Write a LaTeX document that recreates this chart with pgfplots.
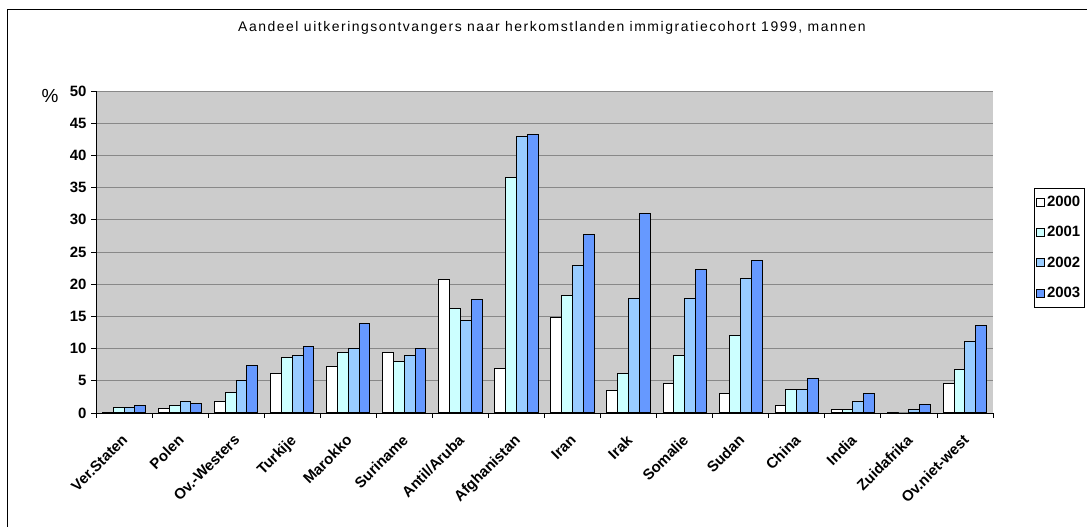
\documentclass[border=0pt]{standalone}
\usepackage{pgfplots}
\usepackage{pgfplotstable}
\pgfplotsset{compat=1.18}
\usepackage{fontspec}
\setmainfont{Liberation Sans}
\newfontfamily\titlefont[LetterSpace=11]{Liberation Sans}

\definecolor{jr2001}{HTML}{CCFFFF}
\definecolor{jr2002}{HTML}{99CCFF}
\definecolor{jr2003}{HTML}{6699FF}
\definecolor{plotbg}{HTML}{CCCCCC}
\definecolor{gridc}{HTML}{888888}

% percentages per herkomstland, mannen, cohort 1999
\pgfplotstableread{
x  a2000 a2001 a2002 a2003
0  0.15  0.9   0.9   1.15
1  0.7   1.15  1.85  1.55
2  1.85  3.25  5.1   7.4
3  6.2   8.6   9.0   10.4
4  7.25  9.45  10.0  13.95
5  9.45  8.05  8.85  10.0
6  20.7  16.2  14.4  17.6
7  6.9   36.5  43.0  43.2
8  14.85 18.3  22.95 27.65
9  3.45  6.2   17.85 30.9
10 4.65  9.0   17.85 22.3
11 2.95  12.05 20.9  23.7
12 1.15  3.7   3.7   5.3
13 0.6   0.6   1.85  2.95
14 0.12  0     0.6   1.35
15 4.65  6.7   11.15 13.65
}\herkomst

\begin{document}
\begin{tikzpicture}[x=1bp,y=1bp]
\path[use as bounding box] (0,0) rectangle (1087,527);
\draw[black, line width=0.9bp] (7,-5) rectangle (1200,518);
\node[font=\titlefont\fontsize{14}{16}\selectfont] at (552,499) {Aandeel uitkeringsontvangers naar herkomstlanden immigratiecohort 1999, mannen};
\node[font=\fontsize{19}{21}\selectfont] at (50,431) {\%};
\begin{axis}[
  at={(96bp,114bp)}, anchor=south west,
  scale only axis, width=897bp, height=322bp,
  ymin=0, ymax=50, ytick={0,5,...,50},
  xmin=-0.5, xmax=15.5,
  xtick={-0.5,0.5,...,15.5},
  x tick label as interval,
  xticklabels={Ver.Staten,Polen,Ov.-Westers,Turkije,Marokko,Suriname,Antil/Aruba,Afghanistan,Iran,Irak,Somalie,Sudan,China,India,Zuidafrika,Ov.niet-west},
  xticklabel style={yshift=-14bp, xshift=-3bp, rotate=45, anchor=north east, inner sep=1bp},
  yticklabel style={xshift=-1bp},
  axis lines*=left,
  axis line style={black, line width=0.9bp},
  tick align=outside, major tick length=5bp,
  tick style={black, line width=0.9bp},
  ticklabel style={font=\bfseries\fontsize{15}{17}\selectfont},
  /pgf/number format/assume math mode=true,
  axis background/.style={fill=plotbg},
  ymajorgrids, grid style={gridc, line width=0.9bp},
  ybar=0pt, bar width=0.193,
  legend style={at={(1.0457,0.699)}, anchor=north west, draw=black, fill=white,
    font=\bfseries\fontsize{15}{17}\selectfont, row sep=14.5bp, inner xsep=2bp, inner ysep=6bp,
    cells={anchor=west}},
  legend image code/.code={\draw[#1, line width=0.8bp, draw=black] (0bp,-4bp) rectangle (8bp,4bp);},
  every axis plot/.append style={draw=black, line width=1bp},
]
\addplot[fill=white] table[x=x, y=a2000] {\herkomst};
\addlegendentry{2000}
\addplot[fill=jr2001] table[x=x, y=a2001] {\herkomst};
\addlegendentry{2001}
\addplot[fill=jr2002] table[x=x, y=a2002] {\herkomst};
\addlegendentry{2002}
\addplot[fill=jr2003] table[x=x, y=a2003] {\herkomst};
\addlegendentry{2003}
\end{axis}
\end{tikzpicture}
\end{document}
